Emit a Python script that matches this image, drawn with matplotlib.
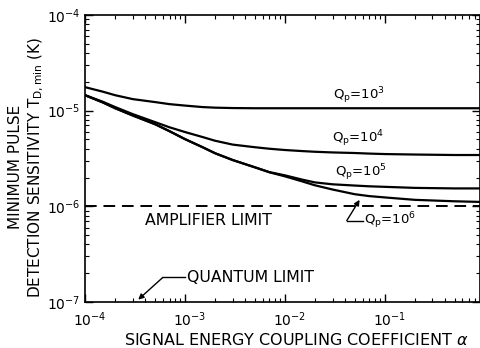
import matplotlib.pyplot as plt
import matplotlib.transforms as mtransforms
import numpy as np

# coupling coefficient alpha (read at these points off the original)
alpha = [1e-4, 1.5e-4, 2e-4, 3e-4, 5e-4, 7e-4, 1e-3, 1.5e-3, 2e-3, 3e-3, 5e-3, 7e-3,
         1e-2, 1.5e-2, 2e-2, 3e-2, 5e-2, 7e-2, 1e-1, 2e-1, 5e-1, 1.0]

# minimum pulse detection sensitivity, units of 1e-6 K
t_q3 = [17.6, 15.8, 14.5, 13.2, 12.3, 11.7, 11.3, 10.9, 10.75, 10.65, 10.6, 10.6,
        10.6, 10.6, 10.6, 10.6, 10.6, 10.6, 10.6, 10.6, 10.6, 10.6]
t_q4 = [14.5, 12.4, 10.9, 9.2, 7.6, 6.7, 5.98, 5.3, 4.85, 4.42, 4.15, 4.0,
        3.88, 3.78, 3.72, 3.66, 3.61, 3.56, 3.52, 3.48, 3.44, 3.44]
t_q5 = [14.5, 12.2, 10.6, 8.9, 7.23, 6.1, 5.04, 4.15, 3.59, 3.05, 2.56, 2.28,
        2.11, 1.90, 1.78, 1.70, 1.65, 1.62, 1.60, 1.56, 1.54, 1.54]
t_q6 = [14.5, 12.2, 10.6, 8.9, 7.23, 6.1, 5.04, 4.15, 3.59, 3.05, 2.56, 2.27,
        2.06, 1.82, 1.66, 1.50, 1.34, 1.28, 1.24, 1.17, 1.13, 1.11]

amp_limit = 1e-6

plt.rcParams['font.family'] = ['DejaVu Sans']
fig = plt.figure(figsize=(4.81, 3.48), dpi=100)
ax = fig.add_axes([0.177, 0.132, 0.821, 0.825])

for t in (t_q3, t_q4, t_q5, t_q6):
    ax.plot(alpha, np.array(t) * 1e-6, color='black', lw=1.6)

ax.axhline(amp_limit, color='black', lw=1.4, ls=(0, (6, 3.5)))

ax.set_xscale('log')
ax.set_yscale('log')
ax.set_xlim(1e-4, 0.9)
ax.set_ylim(1e-7, 1e-4)

ax.tick_params(which='both', direction='in', top=True, right=True, labelsize=10)
ax.tick_params(which='major', length=6, width=1)
ax.tick_params(which='minor', length=3, width=0.8)
ax.tick_params(axis='x', pad=6)
for s in ax.spines.values():
    s.set_linewidth(1.2)

ax.set_xlabel(r'SIGNAL ENERGY COUPLING COEFFICIENT $\alpha$', fontsize=11.5)
ax.xaxis.set_label_coords(0.535, -0.105)
ax.set_ylabel('MINIMUM PULSE\nDETECTION SENSITIVITY T$_\\mathregular{D,min}$ (K)',
              fontsize=11, linespacing=1.25)
ax.yaxis.set_label_coords(-0.10, 0.47)

lab = dict(fontsize=9.5, ha='left', va='center')
ax.text(0.030, 1.42e-5, 'Q$_\\mathregular{p}$=10$^\\mathregular{3}$', **lab)
ax.text(0.0295, 5.15e-6, 'Q$_\\mathregular{p}$=10$^\\mathregular{4}$', **lab)
ax.text(0.0316, 2.27e-6, 'Q$_\\mathregular{p}$=10$^\\mathregular{5}$', **lab)
ax.text(0.062, 7.1e-7, 'Q$_\\mathregular{p}$=10$^\\mathregular{6}$', **lab)
ax.text(4.0e-4, 7.1e-7, 'AMPLIFIER LIMIT', fontsize=11.3, ha='left', va='center')
ax.text(1.05e-3, 1.81e-7, 'QUANTUM LIMIT', fontsize=11.3, ha='left', va='center')

# leader for Qp=10^6
ax.plot([0.060, 0.0417], [7.1e-7, 7.1e-7], color='black', lw=1.0)
ax.annotate('', xy=(0.056, 1.17e-6), xytext=(0.0417, 7.1e-7),
            arrowprops=dict(arrowstyle='-|>', color='black', lw=1.0,
                            mutation_scale=8, shrinkA=0, shrinkB=0))
# leader for quantum limit
ax.plot([1.0e-3, 6.0e-4], [1.81e-7, 1.81e-7], color='black', lw=1.0)
ax.annotate('', xy=(3.4e-4, 1.06e-7), xytext=(6.0e-4, 1.81e-7),
            arrowprops=dict(arrowstyle='-|>', color='black', lw=1.0,
                            mutation_scale=8, shrinkA=0, shrinkB=0))

# x tick labels sit a little right of their ticks in the original
shift = mtransforms.ScaledTranslation(5 / 100, 0, fig.dpi_scale_trans)
for t in ax.get_xticklabels():
    t.set_transform(t.get_transform() + shift)

fig.savefig('out.png', dpi=100)
